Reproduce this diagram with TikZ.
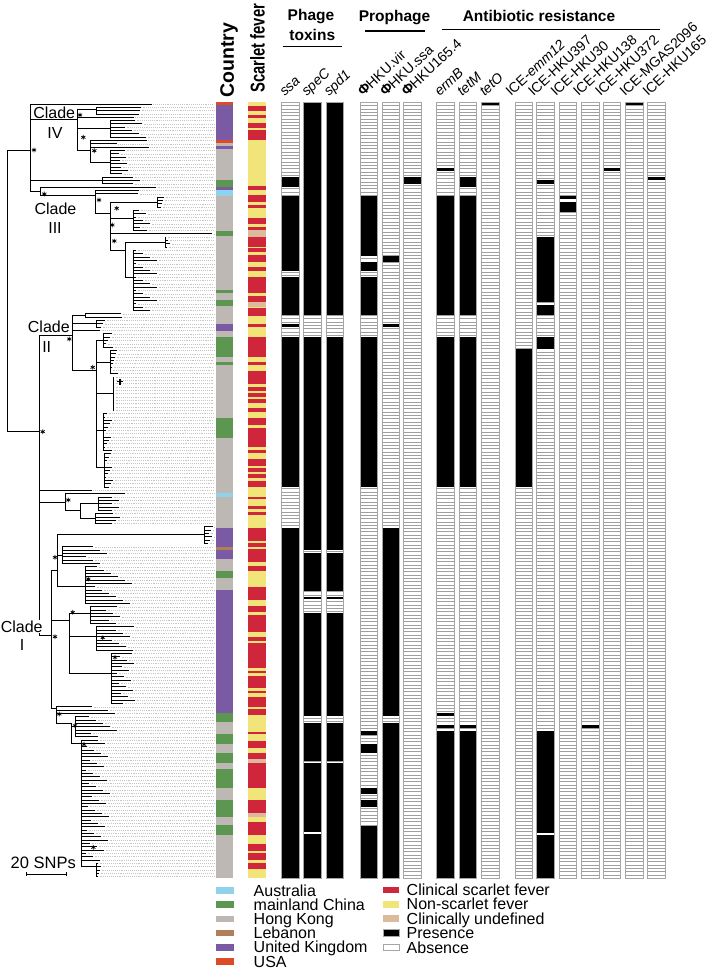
\documentclass[tikz,border=0pt]{standalone}
\usepackage{fontspec}
\setmainfont{Liberation Sans}
\definecolor{cUK}{HTML}{7A5AA3}
\definecolor{cUSA}{HTML}{DD4B26}
\definecolor{cHK}{HTML}{BDB8B3}
\definecolor{cCN}{HTML}{5C9650}
\definecolor{cAU}{HTML}{90D2EA}
\definecolor{cLB}{HTML}{B07F5A}
\definecolor{cRed}{HTML}{D0263C}
\definecolor{cYel}{HTML}{F1E57A}
\definecolor{cUnd}{HTML}{DDBA9B}
\newcommand\fsz[1]{\fontsize{#1}{#1}\selectfont}
\newcommand\TrY[1]{102.3+(#1+0.5)*3.3305}
\newcommand\TrLeaf[3]{\pgfmathsetmacro\tly{\TrY{#1}}\draw[br] (#2,\tly) -- (#3,\tly);\draw[ldr] (#3+1.5,\tly) -- (214,\tly);}
\newcommand\TrV[3]{\pgfmathsetmacro\tva{\TrY{#2}}\pgfmathsetmacro\tvb{\TrY{#3}}\draw[br] (#1,\tva) -- (#1,\tvb);}
\newcommand\TrH[3]{\pgfmathsetmacro\tha{\TrY{#1}}\draw[br] (#2,\tha) -- (#3,\tha);}
\newcommand\TrLad[5]{\TrV{#1}{#2}{#3}\foreach \rr in {#2,...,#3}{\pgfmathsetmacro\tpp{#4+mod(\rr*7,#5)}\TrLeaf{\rr}{#1}{\tpp}}}
\newcommand\TrStar[2]{\draw[line width=0.7pt] (#1,#2-2.4) -- (#1,#2+2.4) (#1-2.1,#2-1.2) -- (#1+2.1,#2+1.2) (#1-2.1,#2+1.2) -- (#1+2.1,#2-1.2);}
\newcommand\PaCol[2]{%
  \fill[white] (#1,102.3) rectangle ({#1+17.3},878.3);
  \draw[hatch] \foreach \k in {1,...,232}{(#1,{102.3+\k*3.3305}) -- ({#1+17.3},{102.3+\k*3.3305})};
  \foreach \a/\b in {#2}{\fill[black] (#1,\a) rectangle ({#1+17.3},\b);}
  \draw[colframe] (#1,102.3) rectangle ({#1+17.3},878.3);}
\begin{document}
\begin{tikzpicture}[x=1pt,y=-1pt,
  br/.style={line width=0.9pt,black,line cap=rect},
  ldr/.style={line width=0.5pt,gray!45,dash pattern=on 0.6pt off 1.3pt},
  hatch/.style={line width=0.9pt,gray!75},
  colframe/.style={line width=0.9pt,gray!70},
  hdr/.style={font=\fsz{15.5}\bfseries,inner sep=0pt,anchor=base},
  glab/.style={font=\fsz{14}, rotate=43, anchor=base west, inner sep=0pt},
  leg/.style={font=\fsz{16}, anchor=base west, inner sep=0pt},
  clade/.style={font=\fsz{16}, inner sep=0.6pt, fill=white}]
\useasboundingbox (0,0) rectangle (711,969);

% ---------------- tree ----------------
\TrV{7.3}{14}{98.4}
\TrH{14}{7.3}{30.7}
\TrH{98.4}{7.3}{39.3}
% clade IV
\TrV{30.7}{0}{26.3}
\TrLeaf{0}{30.7}{151.7}
\TrH{4.5}{30.7}{77.3}
\TrV{77.3}{1.5}{14}
\TrH{1.5}{77.3}{96.7}
\TrLad{96.7}{1}{3}{134}{8}
\TrLeaf{4}{77.3}{133.3}
\TrH{7.5}{77.3}{110}
\TrLad{110}{5}{10}{124}{24}
\TrH{14}{77.3}{90.7}
\TrV{90.7}{11}{17.5}
\TrLeaf{11}{90.7}{146.7}
\TrLeaf{12}{90.7}{116.7}
\TrLeaf{13}{90.7}{148.3}
\TrH{17.5}{90.7}{110}
\TrLad{110}{14}{21}{118}{13}
\TrH{23}{30.7}{102.7}
\TrLad{102.7}{22}{24}{133}{14}
% clade III
\TrH{26.3}{30.7}{40}
\TrV{40}{25}{27.5}
\TrLeaf{25}{40}{156}
\TrH{27.5}{40}{95}
\TrV{95}{26}{33}
\TrLeaf{26}{95}{138.3}
\TrLeaf{27}{95}{138}
\TrH{33}{95}{110}
\TrV{110}{29.5}{44}
\TrH{29.5}{110}{157}
\TrLad{157}{28}{31}{160}{8}
\TrH{34.5}{110}{133}
\TrLad{133}{32}{38}{136}{17}
\TrLeaf{39}{110}{212}
\TrH{44}{110}{125}
\TrV{125}{41.5}{52}
\TrH{41.5}{125}{165}
\TrLad{165}{40}{43}{166}{5}
\TrH{52}{125}{133}
\TrLad{133}{44}{62}{136}{28}
% clade II
\TrV{39.3}{69.4}{159.7}
\TrH{69.4}{39.3}{72.7}
\TrV{72.7}{63.5}{80}
\TrH{63.5}{72.7}{85}
\TrLad{85}{63}{64}{121}{3}
\TrH{66}{72.7}{96.7}
\TrLad{96.7}{65}{67}{100}{9}
\TrLeaf{68}{72.7}{100}
\TrH{80}{72.7}{96}
\TrV{96}{71}{109}
\TrH{71}{96}{103}
\TrLad{103}{69}{73}{106}{9}
\TrH{77.5}{96}{110}
\TrLad{110}{74}{81}{111}{8}
\TrH{87}{96}{113}
\TrLad{113}{82}{92}{114}{7}
\TrH{98}{96}{103}
\TrLad{103}{93}{104}{104}{9}
\TrH{109}{96}{104}
\TrLad{104}{105}{115}{105}{9}
% between II and I
\TrLeaf{116}{39.3}{91.7}
\TrH{119.5}{39.3}{65}
\TrV{65}{117}{122}
\TrLeaf{117}{65}{125}
\TrH{122}{65}{80}
\TrV{80}{120}{124.5}
\TrH{120}{80}{98}
\TrLad{98}{118}{122}{112}{14}
\TrH{124.5}{80}{95}
\TrLad{95}{123}{126}{110}{11}
% clade I
\TrH{159.7}{39.3}{51.7}
\TrV{51.7}{140}{181.5}
\TrH{140}{51.7}{57.3}
\TrV{57.3}{129.4}{145}
\TrH{129.4}{57.3}{204}
\TrV{204}{127}{132}
\foreach \r/\t in {127/213,128/211,129/209,130/212,131/210,132/208}{\TrLeaf{\r}{204}{\t}}
\TrH{135.5}{57.3}{62}
\TrLad{62}{133}{138}{86}{28}
\TrH{145}{57.3}{85}
\TrLad{85}{139}{150}{92}{44}
\TrH{155}{51.7}{69.3}
\TrV{69.3}{153}{171}
\TrH{153}{69.3}{90}
\TrLad{90}{151}{156}{104}{18}
\TrH{160}{69.3}{96.7}
\TrLad{96.7}{157}{164}{110}{25}
\TrH{171}{69.3}{111.7}
\TrLad{111.7}{165}{180}{117}{19}
\TrH{181.5}{51.7}{56}
\TrV{56}{181}{186}
\TrLeaf{181}{56}{92}
\TrLeaf{182}{56}{108}
\TrLeaf{183}{56}{115}
\TrH{186}{56}{71.7}
\TrV{71.7}{186}{192}
\TrH{187}{71.7}{75}
\TrLad{75}{184}{190}{88}{33}
\TrH{192}{71.7}{81.7}
\TrV{81.7}{191}{229}
\TrLad{81.7}{191}{227}{86}{25}
\TrH{229}{81.7}{96.7}
\TrLad{96.7}{228}{232}{98}{4}
% stars
\foreach \x/\y in {34/150,80/115,83.3/137.3,94.3/150.7,44.3/194,99/200,116.7/208.3,112.3/225,114.3/241,69.3/339,92.7/367.3,42.7/431.7,68.3/500,55/557.3,88.3/579,72.7/612.3,55/636.7,102.7/637.7,115/657.3,59.3/714,75/725.7,84/744.3,93.3/847.3}{\TrStar{\x}{\y}}
\draw[line width=1.2pt] (117,381.7) -- (123,381.7) (120,378.7) -- (120,384.7);
% clade labels
\node[clade] (c4a) at (54.2,112.3) {Clade};
\node[clade,fill=none] (c4b) at (55,133.3) {IV};
\node[clade] (c3a) at (55.5,208.3) {Clade};
\node[clade] (c3b) at (55,228.3) {III};
\node[clade] (c2a) at (48.8,326.7) {Clade};
\node[clade,fill=none] (c2b) at (46.7,346.7) {II};
\node[clade] (c1a) at (21.7,626.7) {Clade};
\node[clade,fill=none] (c1b) at (22,645) {I};
% scale bar
\node[font=\fsz{16.5},inner sep=0pt,anchor=base] (sb) at (43.3,868.5) {20 SNPs};
\draw[line width=1pt] (26.7,874.3) -- (66.7,874.3) (26.7,872.3) -- (26.7,876.3) (66.7,872.3) -- (66.7,876.3);

% ---------------- country strip ----------------
\fill[cHK] (215.7,102.3) rectangle (233.3,878.3);
\foreach \a/\b/\c in {102.3/105/cUSA,105/140/cUK,140/142.7/cUSA,145.7/149.3/cUK,180.3/187/cCN,187/190.3/cUK,190.3/196/cAU,231/236.3/cCN,290/293.3/cCN,300/305.7/cCN,324.3/331/cUK,337/356.7/cCN,361.7/365/cCN,418.3/437.7/cCN,493.3/496.7/cAU,528.3/546.7/cUK,546.7/550/cLB,550/559.3/cUK,571/578.3/cCN,590/712.7/cUK,712.7/721.7/cCN,734.3/744/cCN,752.7/762.7/cCN,769/788.3/cCN,800/816.7/cCN,825/835/cCN}{\fill[\c] (215.7,\a) rectangle (233.3,\b);}
% ---------------- scarlet fever strip ----------------
\fill[cYel] (248.3,102.3) rectangle (265.7,878.3);
\foreach \a/\b in {105.7/111,115/117.7,123.3/127.7,130/140,186/190,195/202.3,205/208.3,217.7/224.3,227/230.3,236.7/246.7,248.3/252.3,255/261.7,267.3/270.7,277.3/293.3,296/302.3,308.3/315.7,324.3/327,337/356.7,361.7/365,371/384.3,386.7/391,393.3/396.7,399/403.3,408.3/411.7,417.7/425,428.3/446.7,450/453.3,459/465.7,468.3/471.7,474.3/478.3,480.7/486.7,496.7/499.3,506/509,512.3/515,528.3/540.7,543.3/546.7,549.3/561.7,565.7/570.7,587.3/600,606/611.7,615/631.7,637.3/640.7,643.3/668.3,670.7/672.7,675.7/687.7,691/693.3,696.7/706.7,709/715,731.7/734.3,741/747.7,752.7/759.3,762.7/788.3,800/812.7,821.7/835,844.3/851,853.3/860,862.7/869.3}{\fill[cRed] (248.3,\a) rectangle (265.7,\b);}
\foreach \a/\b in {230.3/236.7,302.3/306.7,759.3/762.7,812.7/816.7}{\fill[cUnd] (248.3,\a) rectangle (265.7,\b);}

% ---------------- presence / absence columns ----------------
\PaCol{281.7}{177.3/186.7,196/271,277.3/315,324.3/327,337/487.3,528.3/878.3}
\PaCol{303.7}{102.3/315,337/550,552.7/590.7,596.7/599.3,612.7/716,722.7/760.7,762.7/831.7,834.3/878.3}
\PaCol{326}{102.3/315,337/550,552.7/590.7,596.7/599.3,612.7/716,722.7/760.7,762.7/878.3}
\PaCol{360}{196/255.7,261.7/271,277.3/315,337/487.3,731/735,744/752.7,787.7/794.3,800/806.7,825.7/878.3}
\PaCol{382.3}{255.7/261.7,324.3/327,528.3/716,722.7/878.3}
\PaCol{403.7}{177.3/184}
\PaCol{436.7}{167.7/171,196/315,337/487.3,712.7/716,725/728.3,731/878.3}
\PaCol{459.3}{177.3/186.7,196/315,337/487.3,725/728.3,731/878.3}
\PaCol{481.7}{102.3/105.3}
\PaCol{515}{349.2/486.8}
\PaCol{536.7}{180.4/184,236.9/302.4,305.4/315,336.7/349.2,730.8/833.1,834.6/878.3}
\PaCol{559.3}{195.5/198.6,201.6/211.7}
\PaCol{581.7}{724.7/727.8}
\PaCol{603.3}{167.8/170.8}
\PaCol{625.7}{102.3/105.3}
\PaCol{647.7}{176.9/180.4}

% ---------------- headers ----------------
\node[font=\fsz{19.5}\bfseries,rotate=90,anchor=west,inner sep=0pt] (hc) at (229,98) {Country};
\node[font=\fsz{20}\bfseries,rotate=90,anchor=west,inner sep=0pt] (hs) at (257.5,93) {\scalebox{0.74}[1]{Scarlet fever}};
\node[hdr] (ph1) at (311,20.7) {Phage};
\node[hdr] (ph2) at (312.3,40.7) {toxins};
\draw[line width=1.3pt] (282.7,46.7) -- (341.7,46.7);
\node[hdr] (pro) at (394.5,21.7) {Prophage};
\draw[line width=1.3pt] (365,31) -- (425,31);
\node[hdr] (abr) at (539,21.7) {Antibiotic resistance};
\draw[line width=1.3pt] (441.7,29.3) -- (660,29.3);
% gene labels
\node[glab] (g1) at (284.7,97) {\textit{ssa}};
\node[glab] (g2) at (306.7,97) {\textit{speC}};
\node[glab] (g3) at (329,97) {\textit{spd1}};
\node[glab] (g4) at (363,97) {\textbf{Φ}HKU.vir};
\node[glab] (g5) at (385.3,97) {\textbf{Φ}HKU.ssa};
\node[glab] (g6) at (406.7,97) {\textbf{Φ}HKU165.4};
\node[glab] (g7) at (439.7,97) {\textit{ermB}};
\node[glab] (g8) at (462.3,97) {\textit{tetM}};
\node[glab] (g9) at (484.7,97) {\textit{tetO}};
\node[glab] (g10) at (511,97) {ICE-\textit{emm12}};
\node[glab] (g11) at (533.5,97) {ICE-HKU397};
\node[glab] (g12) at (556,97) {ICE-HKU30};
\node[glab] (g13) at (578.5,97) {ICE-HKU138};
\node[glab] (g14) at (600.5,97) {ICE-HKU372};
\node[glab] (g15) at (625,97) {ICE-MGAS2096};
\node[glab] (g16) at (648,97) {ICE-HKU165};

% ---------------- legend ----------------
\foreach \c/\t [count=\i from 0] in {cAU/Australia,cCN/mainland China,cHK/Hong Kong,cLB/Lebanon,cUK/United Kingdom,cUSA/USA}{
  \pgfmathsetmacro\ly{890.5+14.2*\i}
  \fill[\c] (215.5,\ly-3.3) rectangle (233.5,\ly+3.3);
  \node[leg] (legl\i) at (253.5,\ly+5.6) {\t};
}
\foreach \c/\t [count=\i from 0] in {cRed/Clinical scarlet fever,cYel/Non-scarlet fever,cUnd/Clinically undefined}{
  \pgfmathsetmacro\ly{890+14.35*\i}
  \fill[\c] (383,\ly-3.3) rectangle (399,\ly+3.3);
  \node[leg] (legr\i) at (406.5,\ly+5.6) {\t};
}
\draw[gray!70,fill=black,line width=0.8pt] (383,933-3.3) rectangle (399,933+3.3);
\node[leg] (legp) at (406.5,933+5.6) {Presence};
\draw[gray!70,fill=white,line width=0.8pt] (383,947.5-3.3) rectangle (399,947.5+3.3);
\node[leg] (lega) at (406.5,947.5+5.6) {Absence};
\end{tikzpicture}
\end{document}
